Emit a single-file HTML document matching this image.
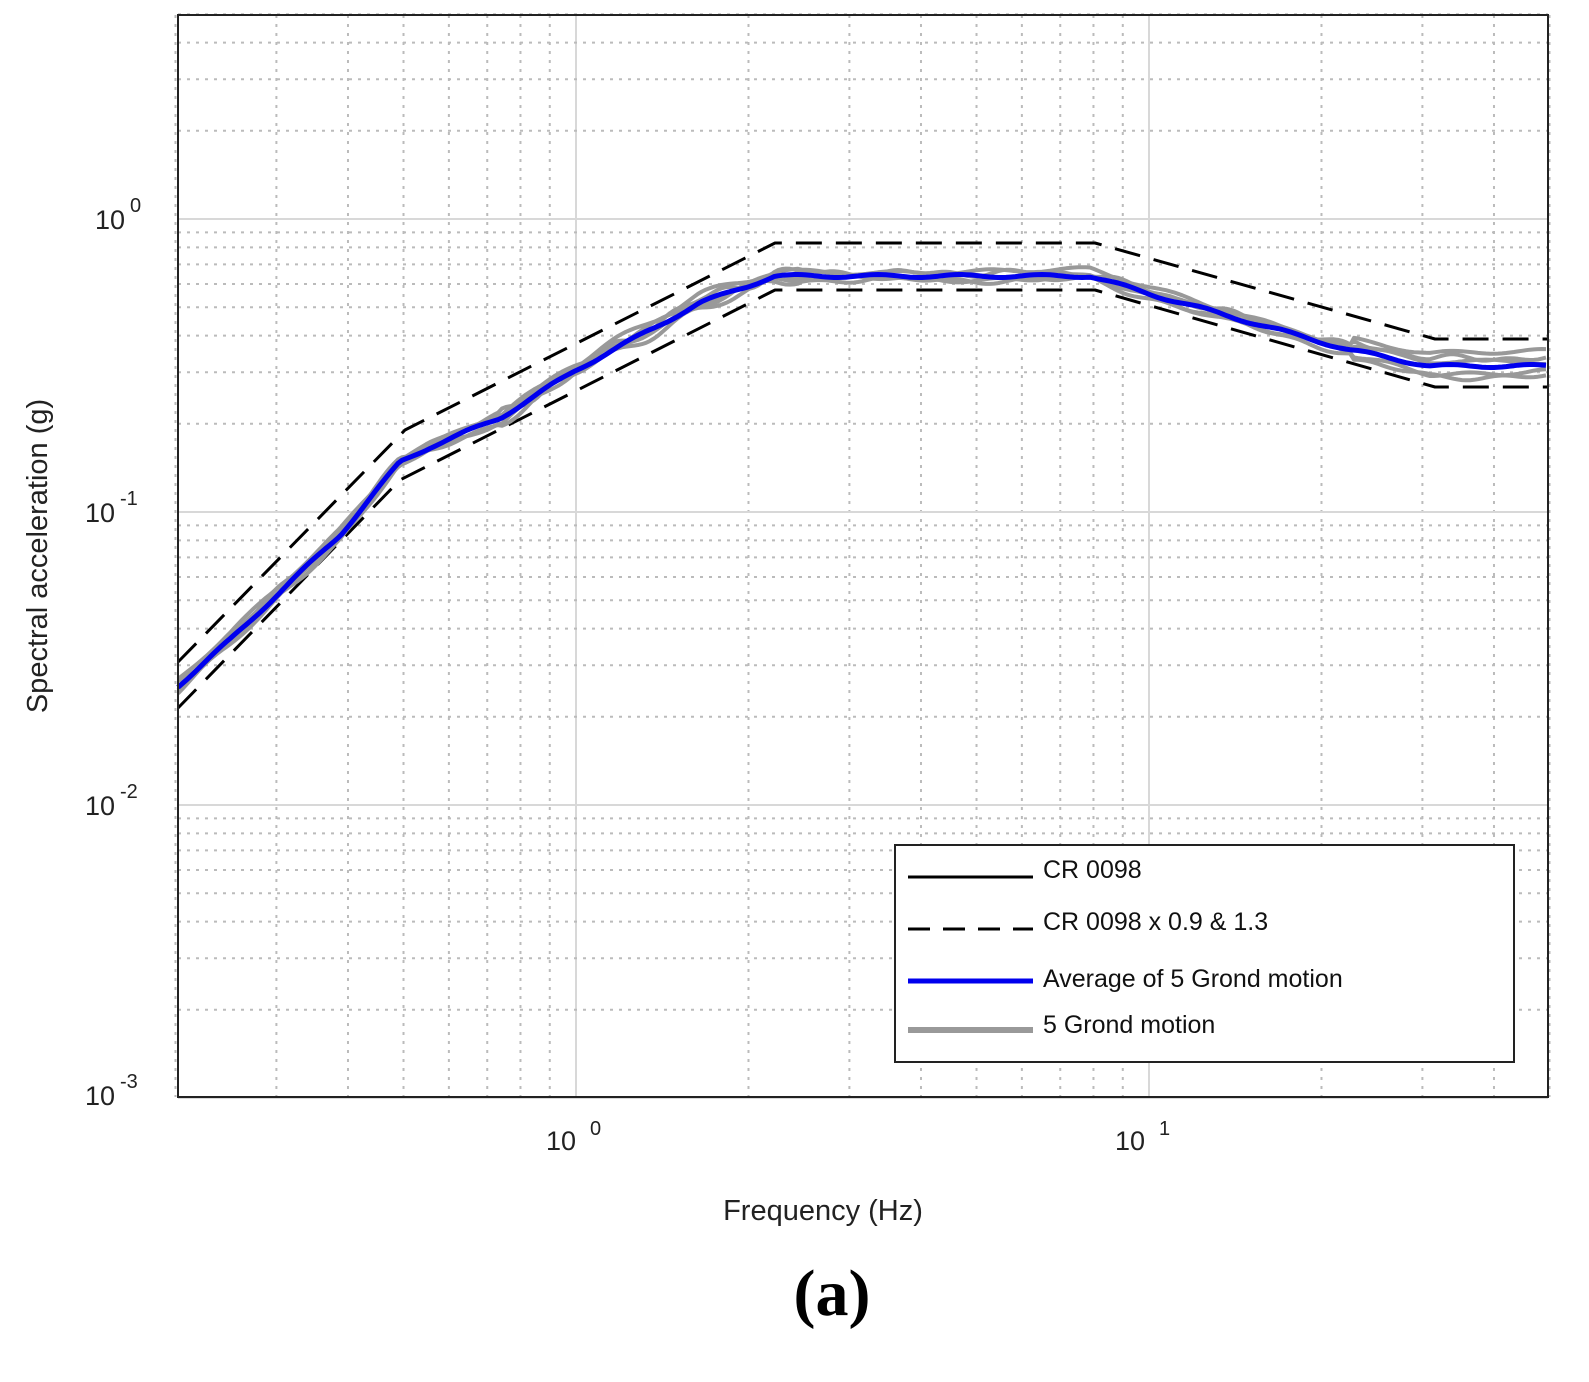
<!DOCTYPE html>
<html><head><meta charset="utf-8">
<style>
html,body{margin:0;padding:0;background:#fff;}
svg{display:block;font-family:"Liberation Sans",sans-serif;}
</style></head>
<body>
<svg id="s" width="1589" height="1382" xmlns="http://www.w3.org/2000/svg">
<g id="grid"></g>
<g id="curves"></g>
<rect x="178" y="15" width="1370" height="1082" fill="none" stroke="#222" stroke-width="2"/>
<g font-size="27" fill="#222">
<text x="95" y="229">10</text><text x="130" y="212" font-size="20">0</text>
<text x="85" y="522">10</text><text x="120" y="505" font-size="20">-1</text>
<text x="85" y="815">10</text><text x="120" y="798" font-size="20">-2</text>
<text x="85" y="1105">10</text><text x="120" y="1088" font-size="20">-3</text>
<text x="546" y="1150">10</text><text x="590" y="1135" font-size="20">0</text>
<text x="1115" y="1150">10</text><text x="1159" y="1135" font-size="20">1</text>
<text x="823" y="1220" text-anchor="middle" font-size="29">Frequency (Hz)</text>
<text transform="translate(47,556) rotate(-90)" text-anchor="middle" font-size="29">Spectral acceleration (g)</text>
</g>
<text x="832" y="1315" text-anchor="middle" font-family="Liberation Serif,serif" font-weight="bold" font-size="66">(a)</text>
<g>
<rect x="895" y="845" width="619" height="217" fill="#fff" stroke="#222" stroke-width="2"/>
<line x1="908" y1="877" x2="1033" y2="877" stroke="#000" stroke-width="3"/>
<line x1="908" y1="929" x2="1033" y2="929" stroke="#000" stroke-width="3" stroke-dasharray="22,13"/>
<line x1="908" y1="981" x2="1033" y2="981" stroke="#0000ee" stroke-width="5"/>
<line x1="908" y1="1030" x2="1033" y2="1030" stroke="#999" stroke-width="6"/>
<g font-size="25" fill="#111">
<text x="1043" y="878">CR 0098</text>
<text x="1043" y="930">CR 0098 x 0.9 &amp; 1.3</text>
<text x="1043" y="987">Average of 5 Grond motion</text>
<text x="1043" y="1033">5 Grond motion</text>
</g>
</g>
</svg>
<script>
var NS="http://www.w3.org/2000/svg";
function X(f){return 576+573*Math.log10(f);}
function Y(v){return 219-293*Math.log10(v);}
var g=document.getElementById('grid'),c=document.getElementById('curves');
function ln(p,x1,y1,x2,y2,col,w,da){var l=document.createElementNS(NS,'line');l.setAttribute('x1',x1);l.setAttribute('y1',y1);l.setAttribute('x2',x2);l.setAttribute('y2',y2);l.setAttribute('stroke',col);l.setAttribute('stroke-width',w);if(da)l.setAttribute('stroke-dasharray',da);p.appendChild(l);}
[0.1,1,10].forEach(function(d){for(var k=1;k<10;k++){var f=d*k;if(f<0.2||f>50)continue;var x=X(f);if(k==1)ln(g,x,15,x,1097,'#d8d8d8',2);else ln(g,x,15,x,1097,'#bbb',2,'3,6');}});
[0.001,0.01,0.1,1].forEach(function(d){for(var k=1;k<10;k++){var v=d*k;if(v>5)continue;var y=Y(v);if(k==1)ln(g,178,y,1548,y,'#d8d8d8',2);else ln(g,178,y,1548,y,'#bbb',2,'3,6');}});
function poly(pts,col,w,da){var p=document.createElementNS(NS,'polyline');p.setAttribute('points',pts.map(function(q){return q[0].toFixed(1)+','+q[1].toFixed(1)}).join(' '));p.setAttribute('fill','none');p.setAttribute('stroke',col);p.setAttribute('stroke-width',w);p.setAttribute('stroke-linejoin','round');if(da)p.setAttribute('stroke-dasharray',da);c.appendChild(p);}
poly([[178,662],[405,430],[775,243],[1095,243],[1435,339],[1548,339]],'#000',3,'26,14');
poly([[178,708],[400,480],[775,290],[1095,290],[1435,387],[1548,387]],'#000',3,'26,14');
var B=[[178,686],[230,640],[280,592],[340,535],[400,462],[430,447],[500,418],[576,370],[650,330],[700,303],[775,276],[1000,276],[1090,276],[1150,294],[1250,322],[1350,350],[1430,366],[1548,366]];
function interp(x){for(var i=0;i<B.length-1;i++){if(x<=B[i+1][0]){var t=(x-B[i][0])/(B[i+1][0]-B[i][0]);return B[i][1]+t*(B[i+1][1]-B[i][1]);}}return B[B.length-1][1];}
var offs=[[-6,1.3,0],[5,2.1,1],[-2,3.3,2],[8,1.7,3],[-10,2.7,4]];
offs.forEach(function(o){var pts=[];for(var x=178;x<=1548;x+=4){var amp=(x>500&&x<800)?7:4;var dy=o[0]*(x>1350?1.3:0.5)+amp*Math.sin(x/(9*o[1])+o[2])*Math.sin(x/37+o[2]);pts.push([x,interp(x)+dy]);}poly(pts,'#999',4);});
var bp=[];for(var x=178;x<=1548;x+=4){bp.push([x,interp(x)+1.5*Math.sin(x/13)]);}
poly(bp,'#0000ee',5);
</script>
</body></html>
